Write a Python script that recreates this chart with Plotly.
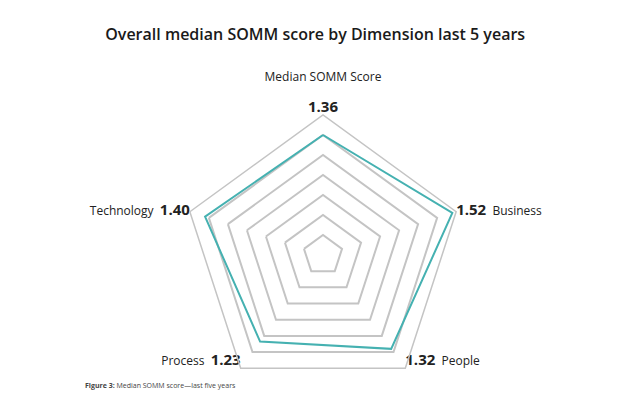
import plotly.graph_objects as go

categories = ["Median SOMM Score", "Business", "People", "Process", "Technology"]
values = [1.36, 1.52, 1.32, 1.23, 1.40]
value_labels = ["1.36", "1.52", "1.32", "1.23", "1.40"]

title_text = "Overall median SOMM score by Dimension last 5 years"
caption_bold = "Figure 3:"
caption_text = "Median SOMM score\u2014last five years"

R_MIN, R_MAX = 0.16, 1.56

BIG = "<span style='font-size:15px'><b>{}</b></span>"

label_text = [
    categories[0] + "<br> <br>" + BIG.format(value_labels[0]),
    BIG.format(value_labels[1]) + "  " + categories[1],
    BIG.format(value_labels[2]) + "  " + categories[2],
    categories[3] + "  " + BIG.format(value_labels[3]),
    categories[4] + "  " + BIG.format(value_labels[4]),
]
label_pos = ["top center", "middle right", "top right", "top left", "middle left"]

GRID = "#c4c4c4"
TEAL = "#45b1b1"

fig = go.Figure()
fig.add_trace(go.Scatterpolar(
    r=values + values[:1],
    theta=categories + categories[:1],
    mode="lines",
    line=dict(color=TEAL, width=2),
    hoverinfo="skip",
    showlegend=False,
))
fig.add_trace(go.Scatterpolar(
    r=[R_MAX] * len(categories),
    theta=categories,
    mode="text",
    text=label_text,
    textposition=label_pos,
    textfont=dict(size=12, color="#222222", family="Open Sans, Lato, sans-serif"),
    cliponaxis=False,
    hoverinfo="skip",
    showlegend=False,
))

cx, cy, R = 315, 247, 140
W, H = 640, 395

fig.update_layout(
    width=W, height=H,
    margin=dict(l=0, r=0, t=0, b=0),
    paper_bgcolor="white",
    plot_bgcolor="white",
    font=dict(family="Open Sans, Lato, sans-serif", color="#222222", size=12),
    title=dict(
        text=title_text,
        x=0.48, xanchor="center",
        y=1 - 26 / H, yanchor="middle",
        font=dict(family="Open Sans", size=16, color="#1a1a1a", weight=600),
    ),
    polar=dict(
        domain=dict(x=[(cx - R) / W, (cx + R) / W],
                    y=[(H - cy - R) / H, (H - cy + R) / H]),
        bgcolor="white",
        gridshape="linear",
        radialaxis=dict(
            range=[R_MIN, R_MAX], tick0=R_MIN, dtick=0.2,
            showline=False, showticklabels=False, ticks="",
            gridcolor=GRID, gridwidth=1.5,
        ),
        angularaxis=dict(
            rotation=90, direction="clockwise",
            showticklabels=False,
            showgrid=False, showline=True, linecolor=GRID, linewidth=1.5,
            ticks="",
        ),
    ),
    annotations=[dict(
        text="<b>" + caption_bold + "</b> " + caption_text,
        x=75 / W, y=1 - 377 / H, xref="paper", yref="paper",
        xanchor="left", yanchor="middle", showarrow=False,
        font=dict(size=7, color="#444444"),
    )],
)

fig.write_html("out.html")
